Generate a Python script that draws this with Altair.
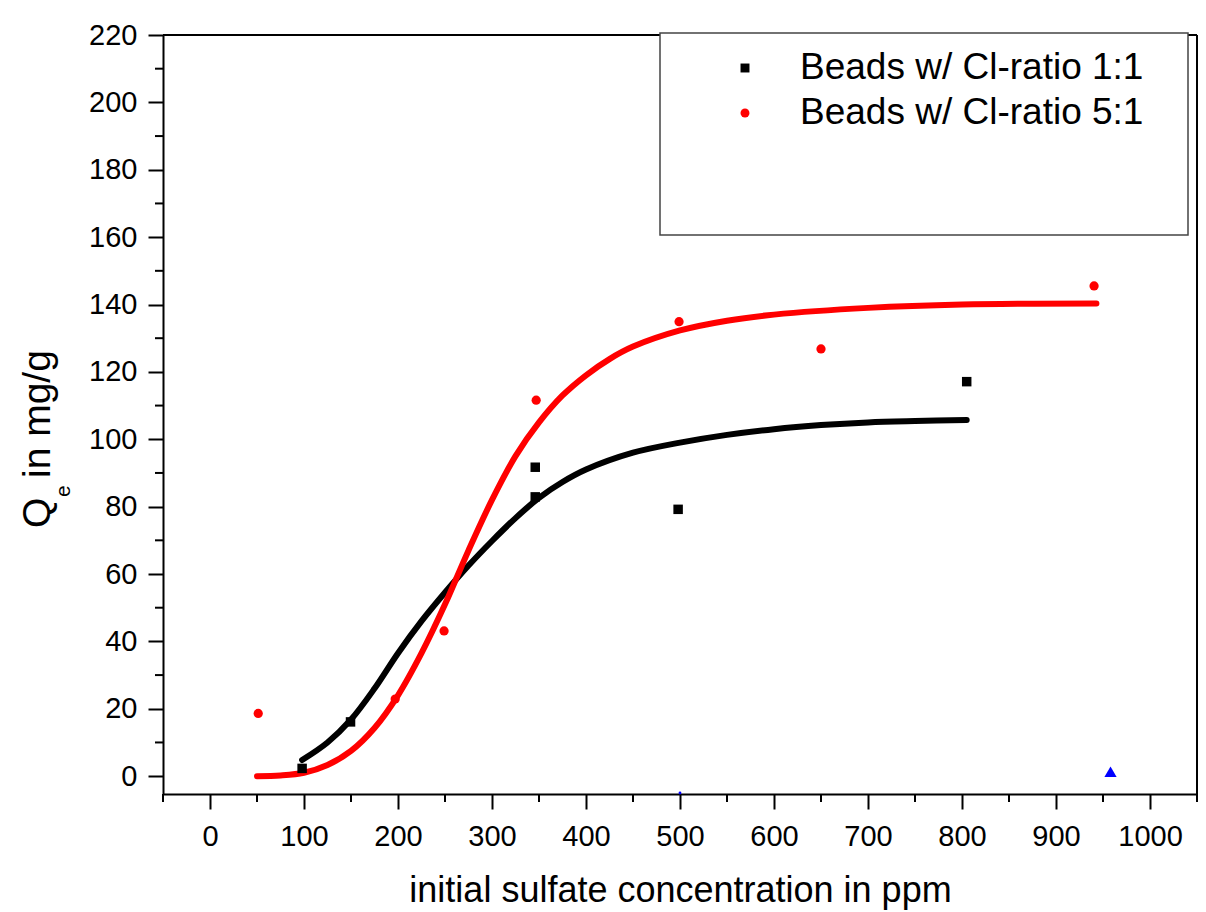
import altair as alt
import pandas as pd

# ---- data ----
black_x = [98, 149.5, 346, 346, 498, 805]
black_y = [2.3, 16.1, 91.7, 82.9, 79.2, 117.1]

red_x = [51.3, 197, 249, 347, 499, 650, 940.5]
red_y = [18.6, 22.9, 43.1, 111.6, 134.9, 126.8, 145.5]

blue_x = [958]
blue_y = [1.3]
blue_dot_x = [500]
blue_dot_y = [-5]

black_fit_x = [98, 125, 150, 175, 200, 225, 250, 275, 300, 325, 350, 375, 400, 450, 500, 550, 600, 650, 700, 750, 805]
black_fit_y = [4.8, 10.0, 16.8, 26.0, 36.5, 46.0, 54.5, 62.5, 69.8, 76.6, 82.6, 87.3, 91.0, 96.0, 99.0, 101.3, 103.0, 104.2, 105.0, 105.4, 105.7]

red_fit_x = [50, 75, 100, 125, 150, 175, 200, 225, 250, 275, 300, 325, 350, 375, 400, 425, 450, 500, 550, 600, 700, 800, 943]
red_fit_y = [0.0, 0.2, 1.0, 3.3, 7.5, 14.3, 24.0, 36.5, 51.0, 67.0, 82.0, 95.0, 105.0, 113.0, 119.0, 123.8, 127.5, 132.3, 135.2, 137.0, 139.0, 140.0, 140.3]

x_major = list(range(0, 1001, 100))
x_minor = list(range(-50, 1051, 100))
y_major = list(range(0, 221, 20))
y_minor = list(range(10, 211, 20))

legend_labels = ["Beads w/ Cl-ratio 1:1", "Beads w/ Cl-ratio 5:1"]
x_title = "initial sulfate concentration in ppm"

FONT = "Liberation Sans"
W, H = 1034, 759

xs = alt.Scale(domain=[-50, 1050], nice=False, zero=False)
ys = alt.Scale(domain=[-5.3, 220], nice=False, zero=False)

x_axis = alt.Axis(values=x_major, title=x_title, grid=False, tickSize=15, tickWidth=2, format="d",
                  domainWidth=2, domainColor="black", tickColor="black",
                  labelFont=FONT, labelFontSize=29, labelColor="black", labelPadding=13,
                  titleFont=FONT, titleFontSize=36, titleFontWeight="normal", titleColor="black",
                  titleBaseline="alphabetic", titleY=107, labelFlush=False)
y_axis = alt.Axis(values=y_major, title=None, grid=False, tickSize=15, tickWidth=2, format="d",
                  domainWidth=2, domainColor="black", tickColor="black",
                  labelFont=FONT, labelFontSize=29, labelColor="black", labelPadding=11,
                  labelFlush=False)

black_df = pd.DataFrame({"x": black_x, "y": black_y})
red_df = pd.DataFrame({"x": red_x, "y": red_y})
blue_df = pd.DataFrame({"x": blue_x, "y": blue_y})
blue_dot_df = pd.DataFrame({"x": blue_dot_x, "y": blue_dot_y})
bfit = pd.DataFrame({"x": black_fit_x, "y": black_fit_y})
rfit = pd.DataFrame({"x": red_fit_x, "y": red_fit_y})

base_axes = alt.Chart(pd.DataFrame({"x": [0], "y": [0]})).mark_point(opacity=0).encode(
    x=alt.X("x:Q", scale=xs, axis=x_axis),
    y=alt.Y("y:Q", scale=ys, axis=y_axis),
)

xminor = alt.Chart(pd.DataFrame({"x": x_minor})).mark_rule(color="black", strokeWidth=2).encode(
    x=alt.X("x:Q", scale=xs), y=alt.value(H), y2=alt.value(H + 8))
yminor = alt.Chart(pd.DataFrame({"y": y_minor})).mark_rule(color="black", strokeWidth=2).encode(
    y=alt.Y("y:Q", scale=ys), x=alt.value(-8), x2=alt.value(0))

frame_top = alt.Chart(pd.DataFrame({"a": [0]})).mark_rule(color="black", strokeWidth=2).encode(
    x=alt.value(0), x2=alt.value(W), y=alt.value(0))
frame_right = alt.Chart(pd.DataFrame({"a": [0]})).mark_rule(color="black", strokeWidth=2).encode(
    x=alt.value(W), y=alt.value(0), y2=alt.value(H))

line_black = alt.Chart(bfit).mark_line(color="black", strokeWidth=6, interpolate="catmull-rom",
                                       strokeCap="round").encode(
    x=alt.X("x:Q", scale=xs), y=alt.Y("y:Q", scale=ys))
line_red = alt.Chart(rfit).mark_line(color="#ff0000", strokeWidth=6, interpolate="catmull-rom",
                                     strokeCap="round").encode(
    x=alt.X("x:Q", scale=xs), y=alt.Y("y:Q", scale=ys))

pts_black = alt.Chart(black_df).mark_point(shape="square", filled=True, color="black", size=90,
                                           opacity=1).encode(
    x=alt.X("x:Q", scale=xs), y=alt.Y("y:Q", scale=ys))
pts_red = alt.Chart(red_df).mark_point(shape="circle", filled=True, color="#ff0000", size=85,
                                       opacity=1).encode(
    x=alt.X("x:Q", scale=xs), y=alt.Y("y:Q", scale=ys))
pts_blue = alt.Chart(blue_df).mark_point(shape="triangle-up", filled=True, color="#0000ff", size=150,
                                         opacity=1).encode(
    x=alt.X("x:Q", scale=xs), y=alt.Y("y:Q", scale=ys))
pts_blue_dot = alt.Chart(blue_dot_df).mark_point(shape="circle", filled=True, color="#0000ff", size=8,
                                                 opacity=1).encode(
    x=alt.X("x:Q", scale=xs), y=alt.Y("y:Q", scale=ys))

# legend box
leg_box = alt.Chart(pd.DataFrame({"a": [0]})).mark_rect(fill="white", stroke="#444444",
                                                        strokeWidth=1.5).encode(
    x=alt.value(497), x2=alt.value(1025), y=alt.value(-2), y2=alt.value(200))
leg_sym1 = alt.Chart(pd.DataFrame({"a": [0]})).mark_point(shape="square", filled=True, color="black",
                                                          size=80, opacity=1).encode(
    x=alt.value(582), y=alt.value(33))
leg_sym2 = alt.Chart(pd.DataFrame({"a": [0]})).mark_point(shape="circle", filled=True, color="#ff0000",
                                                          size=80, opacity=1).encode(
    x=alt.value(582), y=alt.value(78))
leg_txt1 = alt.Chart(pd.DataFrame({"t": [legend_labels[0]]})).mark_text(
    font=FONT, fontSize=37, align="left", baseline="middle", color="black").encode(
    x=alt.value(637), y=alt.value(33), text="t:N")
leg_txt2 = alt.Chart(pd.DataFrame({"t": [legend_labels[1]]})).mark_text(
    font=FONT, fontSize=37, align="left", baseline="middle", color="black").encode(
    x=alt.value(637), y=alt.value(78), text="t:N")

# y title with subscript
yt_q = alt.Chart(pd.DataFrame({"t": ["Q"]})).mark_text(
    font=FONT, fontSize=39, align="left", baseline="alphabetic", angle=270, color="black").encode(
    x=alt.value(-113), y=alt.value(493), text="t:N")
yt_e = alt.Chart(pd.DataFrame({"t": ["e"]})).mark_text(
    font=FONT, fontSize=21, align="left", baseline="alphabetic", angle=270, color="black").encode(
    x=alt.value(-93), y=alt.value(462), text="t:N")
yt_rest = alt.Chart(pd.DataFrame({"t": ["in mg/g"]})).mark_text(
    font=FONT, fontSize=39, align="left", baseline="alphabetic", angle=270, color="black").encode(
    x=alt.value(-113), y=alt.value(443), text="t:N")

chart = alt.layer(
    base_axes, xminor, yminor, frame_top, frame_right,
    line_black, line_red, pts_black, pts_red, pts_blue, pts_blue_dot,
    leg_box, leg_sym1, leg_sym2, leg_txt1, leg_txt2,
    yt_q, yt_e, yt_rest,
).properties(
    width=W, height=H,
    autosize=alt.AutoSizeParams(type="none"),
    padding={"left": 155, "top": 27, "right": 1, "bottom": 116},
).configure_view(stroke=None).configure(background="white")

chart.save("out.html", embed_options={"renderer": "svg", "actions": False})
